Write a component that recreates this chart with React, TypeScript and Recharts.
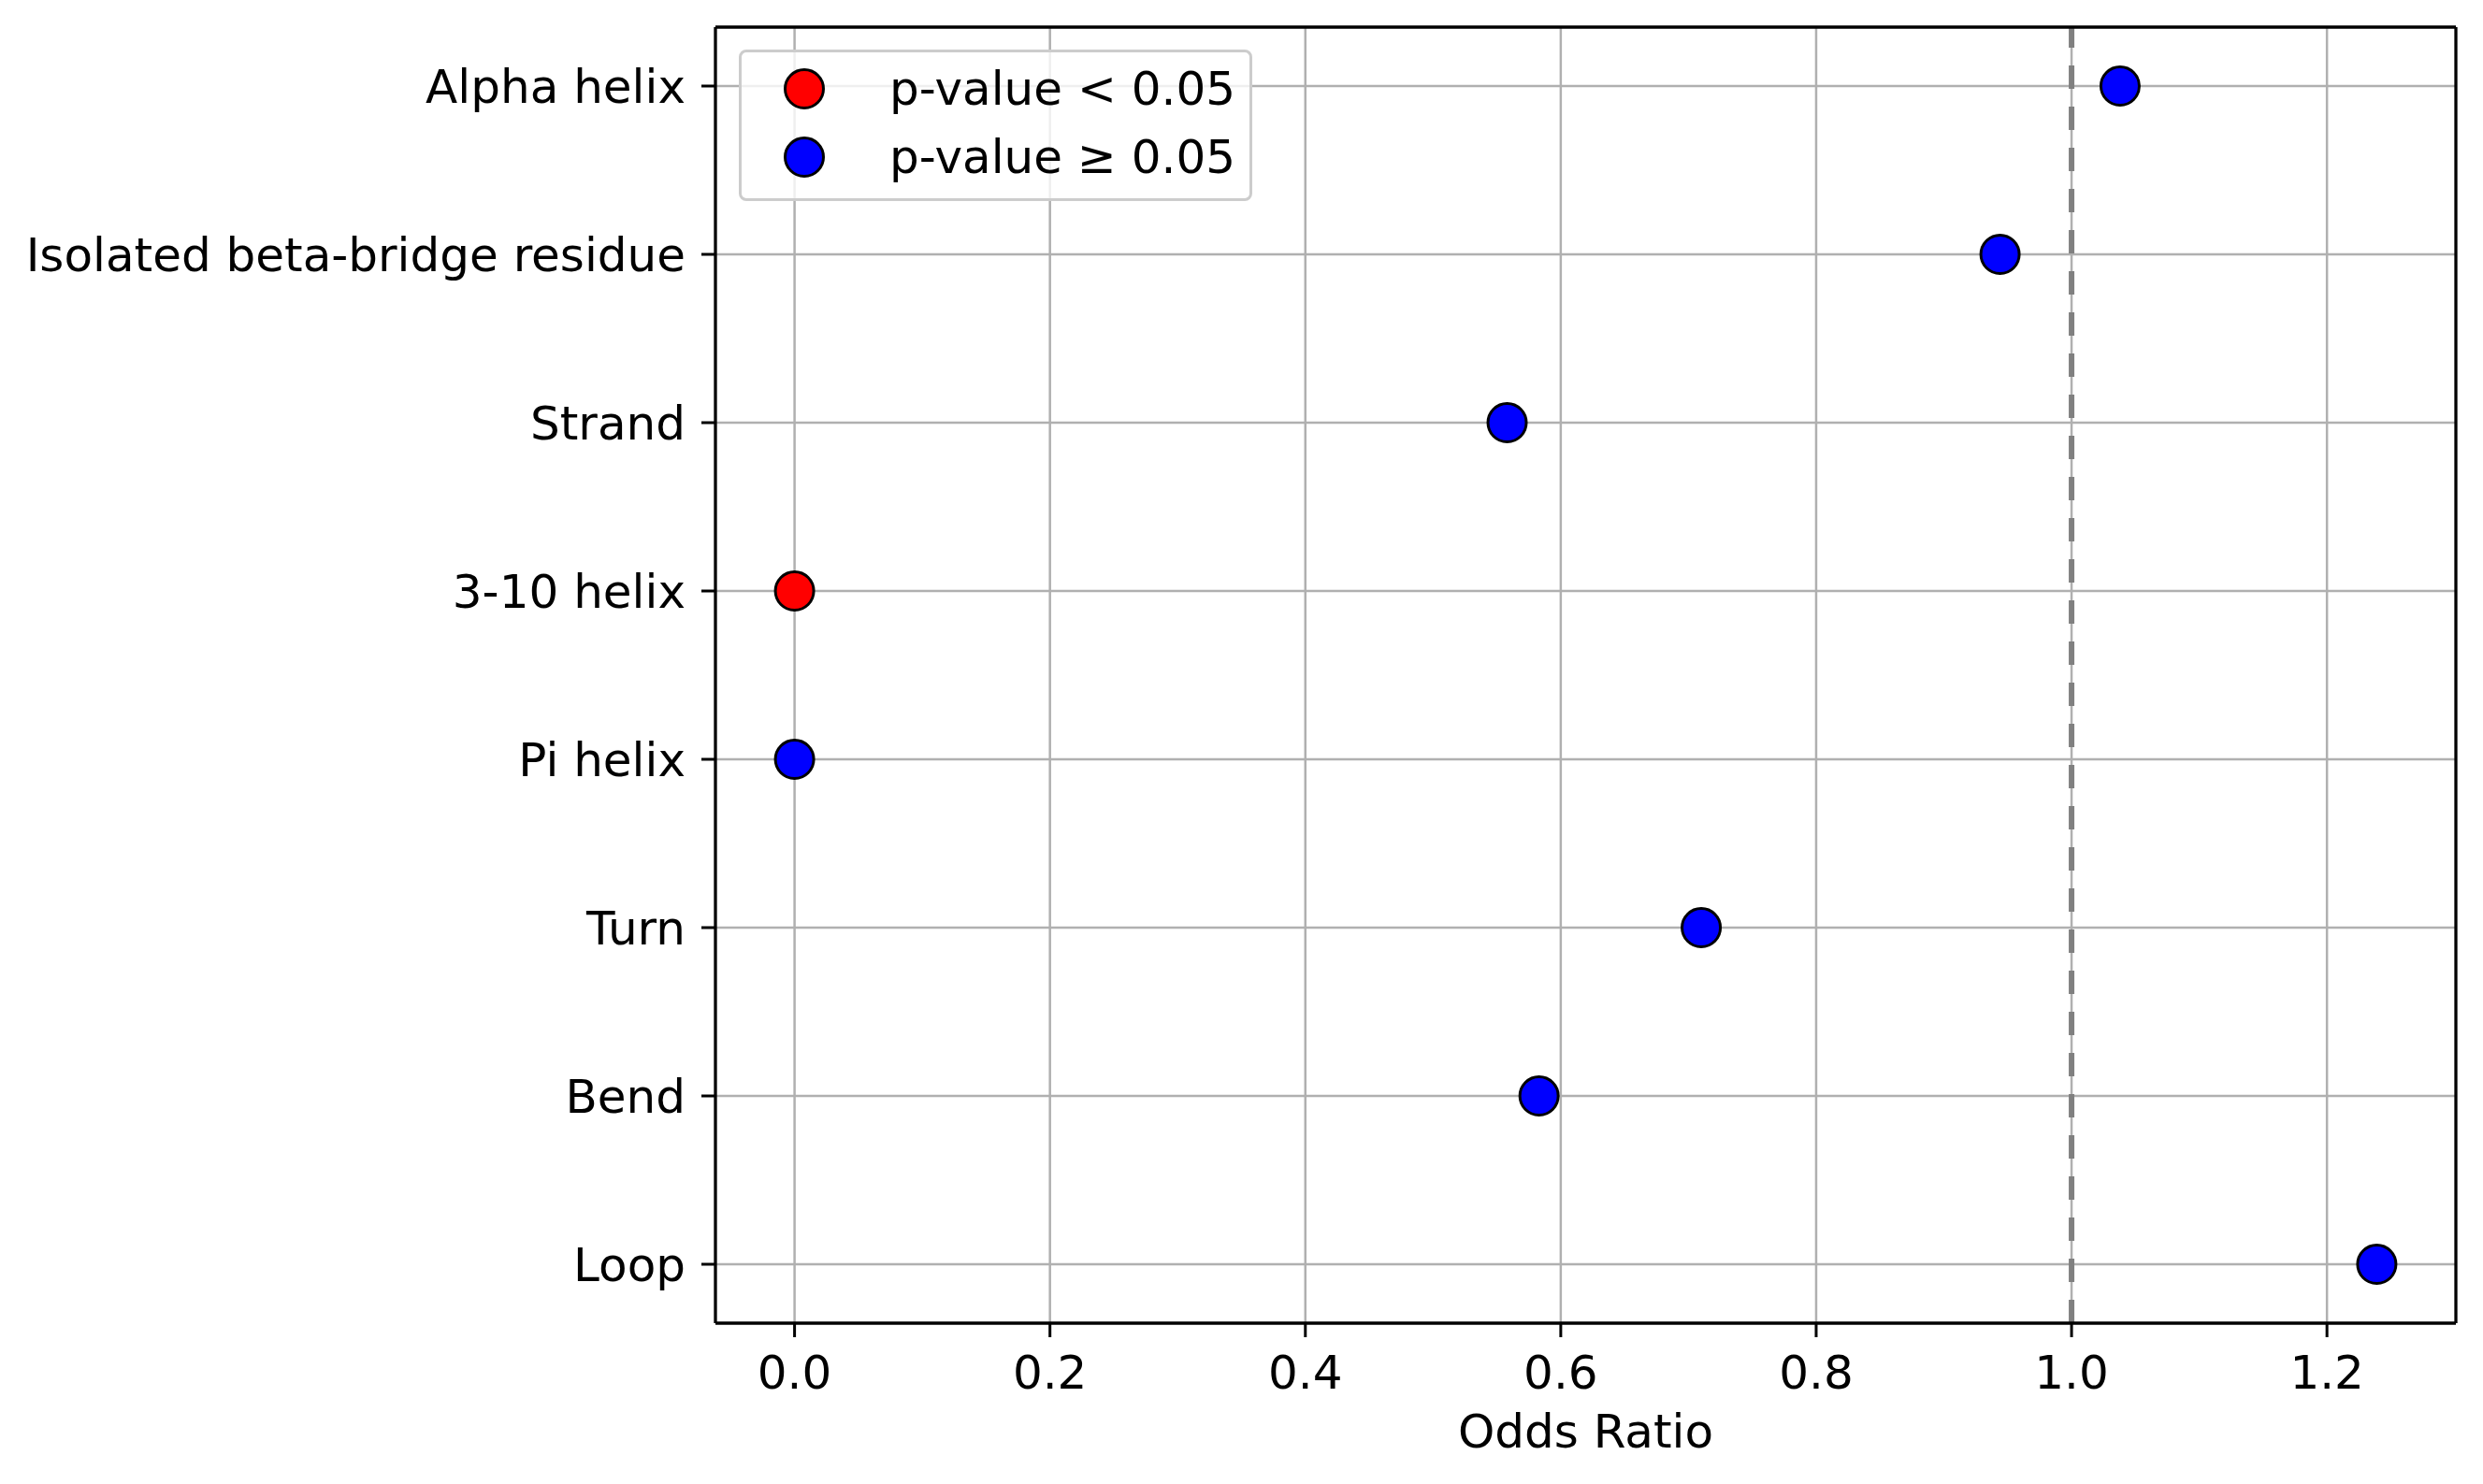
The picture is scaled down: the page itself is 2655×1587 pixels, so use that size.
import {
  ScatterChart,
  Scatter,
  XAxis,
  YAxis,
  ReferenceLine,
  Legend,
} from 'recharts';

const categories = [
  'Alpha helix',
  'Isolated beta-bridge residue',
  'Strand',
  '3-10 helix',
  'Pi helix',
  'Turn',
  'Bend',
  'Loop',
];
const oddsRatios = [1.038, 0.944, 0.558, 0, 0, 0.71, 0.583, 1.239];
const significant = [false, false, false, true, false, false, false, false];
const xTicks = [0, 0.2, 0.4, 0.6, 0.8, 1.0, 1.2];
const legendLabels = ['p-value < 0.05', 'p-value \u2265 0.05'];
const colors = ['#ff0000', '#0000ff'];

const points = categories.map((name, i) => ({ name, idx: i, x: oddsRatios[i], sig: significant[i] }));
const sigPoints = points.filter((p) => p.sig);
const nsPoints = points.filter((p) => !p.sig);
const yTicks = categories.map((_, i) => i);

const xMin = Math.min(...oddsRatios);
const xMax = Math.max(...oddsRatios);
const xPad = (xMax - xMin) * 0.05;
const yPad = (categories.length - 1) * 0.05;
const xDomain = [xMin - xPad, xMax + xPad];
const yDomain = [-yPad, categories.length - 1 + yPad];

const FONT = 'DejaVu Sans, sans-serif';
const FS = 50;

function Dot(props: any) {
  const { cx, cy, fill } = props;
  return <circle cx={cx} cy={cy} r={20.5} fill={fill} stroke="#000" strokeWidth={3} />;
}

function LegendBox() {
  return (
    <div
      style={{
        width: 543,
        height: 156,
        border: '3px solid #cccccc',
        borderRadius: 8,
        background: 'rgba(255,255,255,0.8)',
        position: 'relative',
        fontFamily: FONT,
        fontSize: FS,
      }}
    >
      {legendLabels.map((label, i) => (
        <div key={label} style={{ position: 'absolute', left: 0, top: 39 + i * 73 - 40, height: 80, display: 'flex', alignItems: 'center' }}>
          <svg width={140} height={80} style={{ display: 'block' }}>
            <circle cx={67} cy={40} r={20.5} fill={colors[i]} stroke="#000" strokeWidth={3} />
          </svg>
          <span style={{ marginLeft: 18, color: '#000', whiteSpace: 'nowrap' }}>{label}</span>
        </div>
      ))}
    </div>
  );
}

export default function App() {
  return (
    <div style={{ position: 'absolute', left: 0, top: 0, background: '#fff' }}>
      <ScatterChart
        width={2655}
        height={1587}
        margin={{ top: 29, right: 29, left: 0, bottom: 0 }}
        style={{ fontFamily: FONT }}
      >
        <XAxis
          type="number"
          dataKey="x"
          domain={xDomain}
          ticks={xTicks}
          allowDataOverflow
          tickFormatter={(v: number) => v.toFixed(1)}
          height={172}
          tickSize={15}
          tickMargin={19}
          tick={{ fontSize: FS, fill: '#000' }}
          tickLine={{ stroke: '#000', strokeWidth: 3 }}
          axisLine={{ stroke: '#000', strokeWidth: 3.3 }}
          label={{ value: 'Odds Ratio', position: 'insideBottom', offset: 39, fontSize: FS, fill: '#000' }}
        />
        <YAxis
          type="number"
          dataKey="idx"
          domain={yDomain}
          ticks={yTicks}
          reversed
          allowDataOverflow
          interval={0}
          tickFormatter={(v: number) => categories[v] ?? ''}
          width={765}
          tickSize={15}
          tickMargin={17}
          tick={{ fontSize: FS, fill: '#000' }}
          tickLine={{ stroke: '#000', strokeWidth: 3 }}
          axisLine={{ stroke: '#000', strokeWidth: 3.3 }}
        />
        <Scatter data={sigPoints} fill={colors[0]} shape={<Dot />} isAnimationActive={false} />
        <Scatter data={nsPoints} fill={colors[1]} shape={<Dot />} isAnimationActive={false} />
        {xTicks.map((v) => (
          <ReferenceLine key={`gx${v}`} x={v} stroke="#b0b0b0" strokeWidth={2.5} />
        ))}
        {yTicks.map((v) => (
          <ReferenceLine key={`gy${v}`} y={v} stroke="#b0b0b0" strokeWidth={2.5} />
        ))}
        <ReferenceLine x={1} stroke="#808080" strokeWidth={6} strokeDasharray="25 19" />
        <ReferenceLine x={xDomain[1]} stroke="#000" strokeWidth={3.3} ifOverflow="visible" />
        <ReferenceLine y={yDomain[0]} stroke="#000" strokeWidth={3.3} ifOverflow="visible" />
        <Legend
          layout="vertical"
          align="center"
          verticalAlign="middle"
          content={() => <LegendBox />}
          wrapperStyle={{ left: 790, top: 53, width: 549, height: 162 }}
        />
      </ScatterChart>
    </div>
  );
}
